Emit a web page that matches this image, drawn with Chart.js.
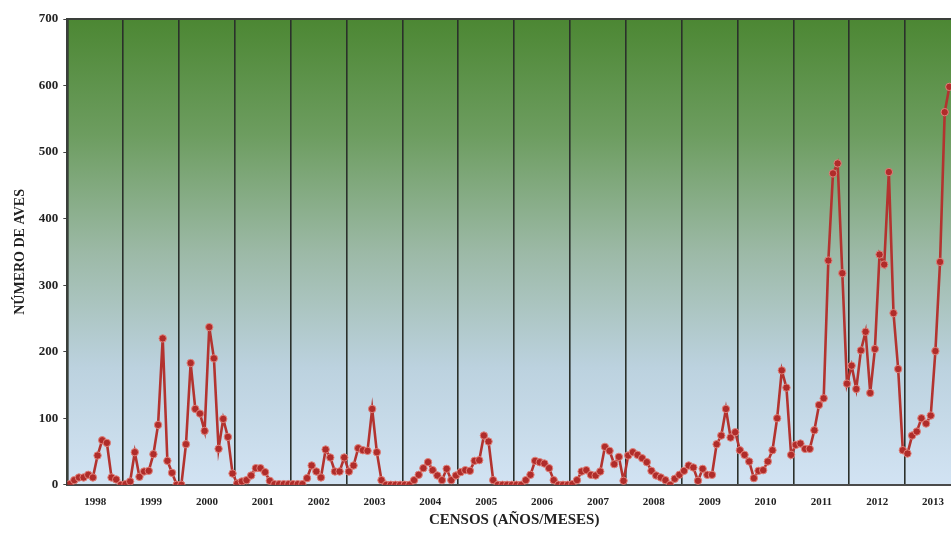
<!DOCTYPE html>
<html>
<head>
<meta charset="utf-8">
<script src="https://cdn.jsdelivr.net/npm/chart.js@4.4.1/dist/chart.umd.min.js"></script>
<style>
  html, body { margin: 0; padding: 0; overflow: hidden; background: #fff; }
  #wrap { width: 972px; height: 535px; }
</style>
</head>
<body>
<div id="wrap"><canvas id="avesChart"></canvas></div>
<script>
// Years on the x axis (one block of 12 monthly censuses each)
const years = [1998, 1999, 2000, 2001, 2002, 2003, 2004, 2005,
               2006, 2007, 2008, 2009, 2010, 2011, 2012, 2013];

// Monthly bird counts, one row per year (2013 is cut off at the right edge)
const birdCounts = [
    1, 7, 11, 11, 15, 11, 44, 67, 63, 11, 8, 0,            // 1998
    1, 5, 49, 12, 20, 21, 46, 90, 220, 36, 18, 0,          // 1999
    0, 61, 183, 114, 107, 81, 237, 190, 54, 99, 72, 17,    // 2000
    2, 5, 7, 14, 25, 25, 19, 6, 1, 1, 1, 1,                // 2001
    1, 1, 1, 10, 29, 20, 11, 53, 41, 20, 20, 41,           // 2002
    20, 29, 55, 52, 51, 114, 49, 7, 0, 0, 0, 0,            // 2003
    0, 0, 7, 15, 25, 34, 22, 14, 7, 24, 7, 14,             // 2004
    19, 22, 21, 36, 37, 74, 65, 7, 0, 0, 0, 0,             // 2005
    0, 0, 7, 15, 36, 34, 32, 25, 7, 0, 0, 0,               // 2006
    1, 7, 20, 22, 15, 14, 20, 57, 51, 31, 42, 6,           // 2007
    44, 49, 45, 40, 34, 21, 14, 11, 7, 0, 9, 15,           // 2008
    21, 29, 26, 6, 24, 15, 15, 61, 74, 114, 71, 79,        // 2009
    52, 45, 35, 10, 21, 22, 35, 52, 100, 172, 146, 45,     // 2010
    60, 62, 54, 54, 82, 120, 130, 337, 468, 483, 318, 152, // 2011
    179, 144, 202, 230, 138, 204, 346, 331, 470, 258, 174, 52, // 2012
    47, 74, 80, 100, 92, 104, 201, 335, 560, 598           // 2013
];

// Y axis ticks
const yTicks = [0, 100, 200, 300, 400, 500, 600, 700];

// Each census is placed in the middle of its month inside its year
const censusPoints = birdCounts.map((v, i) => ({
    x: years[0] + (i + 0.5) / 12,
    y: v
}));

const serif = '"Liberation Serif", "Times New Roman", serif';

// Gradient background and top border of the plot area
const plotBackground = {
    id: 'plotBackground',
    beforeDraw(chart) {
        const { ctx, chartArea: a } = chart;
        const g = ctx.createLinearGradient(0, a.top, 0, a.bottom);
        g.addColorStop(0, '#4c8733');
        g.addColorStop(0.25, '#6d9d60');
        g.addColorStop(0.5, '#9cb9a6');
        g.addColorStop(0.75, '#bcd2df');
        g.addColorStop(1, '#d2e3f3');
        ctx.save();
        ctx.fillStyle = g;
        ctx.fillRect(a.left, a.top, a.right - a.left, a.bottom - a.top);
        ctx.restore();
    },
    afterDraw(chart) {
        const { ctx, chartArea: a } = chart;
        ctx.save();
        ctx.strokeStyle = '#3a3f3a';
        ctx.lineWidth = 2;
        ctx.beginPath();
        ctx.moveTo(a.left, a.top);
        ctx.lineTo(a.right, a.top);
        ctx.stroke();
        ctx.restore();
    }
};

const ctx = document.getElementById('avesChart').getContext('2d');

window.avesChartInstance = new Chart(ctx, {
    type: 'line',
    data: {
        datasets: [{
            label: 'Número de aves',
            data: censusPoints,
            borderColor: '#b3332f',
            borderWidth: 2.6,
            pointRadius: 3.7,
            pointBackgroundColor: '#b02c2a',
            pointBorderColor: '#e0817a',
            pointBorderWidth: 1,
            tension: 0,
            fill: false
        }]
    },
    options: {
        responsive: true,
        maintainAspectRatio: false,
        animation: false,
        layout: { padding: { left: 12, right: 1, top: 19, bottom: 6 } },
        scales: {
            x: {
                type: 'linear',
                min: years[0],
                max: years[years.length - 1] + 1,
                // grid lines at year boundaries, labels at mid-year
                afterBuildTicks(axis) {
                    const t = [];
                    years.forEach(y => {
                        t.push({ value: y });
                        t.push({ value: y + 0.5 });
                    });
                    t.push({ value: years[years.length - 1] + 1 });
                    axis.ticks = t;
                },
                ticks: {
                    autoSkip: false,
                    maxRotation: 0,
                    padding: 11,
                    color: '#222',
                    font: { family: serif, size: 11, weight: 'bold' },
                    callback: v => (v % 1 !== 0 ? String(Math.floor(v)) : '')
                },
                grid: {
                    drawTicks: false,
                    color: c => (c.tick && c.tick.value % 1 === 0 ? '#2b302b' : 'rgba(0,0,0,0)'),
                    lineWidth: 1.6
                },
                border: { display: true, color: '#4a4a4a', width: 2 },
                title: {
                    display: true,
                    text: 'CENSOS (AÑOS/MESES)',
                    color: '#222',
                    font: { family: serif, size: 15, weight: 'bold' },
                    padding: { top: -9, bottom: 0 }
                }
            },
            y: {
                min: 0,
                max: 700,
                afterBuildTicks(axis) {
                    axis.ticks = yTicks.map(v => ({ value: v }));
                },
                ticks: {
                    padding: 5,
                    color: '#222',
                    font: { family: serif, size: 13, weight: 'bold' }
                },
                grid: {
                    drawOnChartArea: false,
                    drawTicks: true,
                    tickLength: 4,
                    color: '#444'
                },
                border: { display: true, color: '#3a3f3a', width: 2 },
                title: {
                    display: true,
                    text: 'NÚMERO DE AVES',
                    color: '#222',
                    font: { family: serif, size: 14, weight: 'bold' },
                    padding: { top: 0, bottom: 5 }
                }
            }
        },
        plugins: {
            legend: { display: false },
            tooltip: { enabled: false }
        }
    },
    plugins: [plotBackground]
});
</script>
</body>
</html>
